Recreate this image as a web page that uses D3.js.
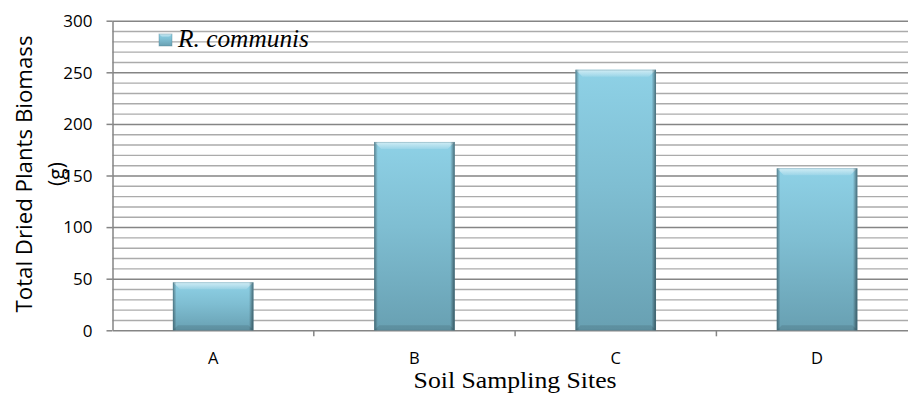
<!DOCTYPE html>
<html>
<head>
<meta charset="utf-8">
<script src="https://cdn.jsdelivr.net/npm/d3@7"></script>
<style>
  html, body { margin: 0; padding: 0; background: #fff; }
  svg { display: block; }
</style>
</head>
<body>
<svg id="chart" width="908" height="394"></svg>
<script>
// ---- data ----
const categories = ["A", "B", "C", "D"];
const seriesName = "R. communis";
const biomass = [46.5, 182.5, 252.5, 157];
const yTicks = [0, 50, 100, 150, 200, 250, 300];
const yMinorTicks = d3.range(10, 301, 10);
const xTitle = "Soil Sampling Sites";
const yTitleLines = ["Total Dried Plants Biomass", "(g)"];

(function () {
// ---- layout ----
const svg = d3.select("#chart");
const plotLeft = 112.5, plotRight = 917.7, plotTop = 20.7, plotBottom = 330.3;

const x = d3.scaleBand().domain(categories).range([plotLeft, plotRight]).padding(0);
const y = d3.scaleLinear().domain([0, 300]).range([plotBottom, plotTop]);

const defs = svg.append("defs");
const barGrad = defs.append("linearGradient").attr("id", "barGrad")
  .attr("x1", 0).attr("y1", 0).attr("x2", 0).attr("y2", 1);
barGrad.append("stop").attr("offset", 0).attr("stop-color", "#8ed1e6");
barGrad.append("stop").attr("offset", 0.45).attr("stop-color", "#7fbed2");
barGrad.append("stop").attr("offset", 1).attr("stop-color", "#68a0b2");

const sideGrad = defs.append("linearGradient").attr("id", "sideGrad")
  .attr("x1", 0).attr("y1", 0).attr("x2", 1).attr("y2", 0);
sideGrad.append("stop").attr("offset", 0).attr("stop-color", "#000").attr("stop-opacity", 0.38);
sideGrad.append("stop").attr("offset", 0.045).attr("stop-color", "#000").attr("stop-opacity", 0.0);
sideGrad.append("stop").attr("offset", 0.945).attr("stop-color", "#000").attr("stop-opacity", 0.0);
sideGrad.append("stop").attr("offset", 1).attr("stop-color", "#000").attr("stop-opacity", 0.48);

const topGrad = defs.append("linearGradient").attr("id", "topGrad")
  .attr("x1", 0).attr("y1", 0).attr("x2", 0).attr("y2", 1);
topGrad.append("stop").attr("offset", 0).attr("stop-color", "#ffffff").attr("stop-opacity", 0.6);
topGrad.append("stop").attr("offset", 1).attr("stop-color", "#ffffff").attr("stop-opacity", 0.12);

// ---- gridlines ----
const minorGrid = svg.append("g").attr("transform", `translate(${plotLeft},0)`)
  .call(d3.axisLeft(y).tickValues(yMinorTicks.filter(v => v % 50 !== 0)).tickSize(-(908 - plotLeft)).tickFormat(""));
minorGrid.select(".domain").remove();
minorGrid.selectAll("line").attr("stroke", "#ababab").attr("stroke-width", 1.4);

const majorGrid = svg.append("g").attr("transform", `translate(${plotLeft},0)`)
  .call(d3.axisLeft(y).tickValues(yTicks.filter(v => v > 0)).tickSize(-(908 - plotLeft)).tickFormat(""));
majorGrid.select(".domain").remove();
majorGrid.selectAll("line").attr("stroke", "#858585").attr("stroke-width", 1.5);

// ---- y axis ----
const yAxis = svg.append("g").attr("transform", `translate(${plotLeft},0)`)
  .call(d3.axisLeft(y).tickValues(yTicks).tickSize(6).tickSizeOuter(0).tickPadding(14));
yAxis.select(".domain").attr("stroke", "#858585").attr("stroke-width", 1.5);
yAxis.selectAll(".tick line").attr("stroke", "#858585").attr("stroke-width", 1.5);
yAxis.selectAll(".tick text")
  .attr("font-family", "'Open Sans', sans-serif").attr("font-size", 17).attr("fill", "#000")
  .attr("dy", "0.34em");

// ---- x axis ----
const xAxis = svg.append("g").attr("transform", `translate(0,${plotBottom})`)
  .call(d3.axisBottom(x).tickSize(0).tickPadding(22).tickSizeOuter(0));
xAxis.select(".domain").attr("stroke", "#858585").attr("stroke-width", 1.5);
xAxis.selectAll(".tick text")
  .attr("font-family", "'Open Sans', sans-serif").attr("font-size", 16.5).attr("fill", "#000");
const boundaryTicks = categories.slice(1).map(c => x(c));
xAxis.selectAll(".btick").data(boundaryTicks).join("line").attr("class", "btick")
  .attr("x1", d => d).attr("x2", d => d).attr("y1", 0).attr("y2", 6)
  .attr("stroke", "#858585").attr("stroke-width", 1.5);

// ---- bars ----
const barW = x.bandwidth() * 0.4;
const bars = svg.append("g").selectAll("g.bar").data(categories.map((c, i) => ({ c, v: biomass[i] })))
  .join("g").attr("class", "bar")
  .attr("transform", d => `translate(${x(d.c) + (x.bandwidth() - barW) / 2},${y(d.v)})`);

bars.each(function (d) {
  const g = d3.select(this);
  const w = barW, h = y(0) - y(d.v);
  const bt = 7, bb = 5;
  g.append("rect").attr("width", w).attr("height", h).attr("fill", "url(#barGrad)");
  g.append("polygon")
    .attr("points", [[0, 0], [w, 0], [w - bt, bt], [bt, bt]].map(p => p.join(",")).join(" "))
    .attr("fill", "url(#topGrad)");
  g.append("polygon")
    .attr("points", [[0, h], [bb, h - bb], [w - bb, h - bb], [w, h]].map(p => p.join(",")).join(" "))
    .attr("fill", "#000").attr("fill-opacity", 0.1);
  g.append("rect").attr("width", w).attr("height", h).attr("fill", "url(#sideGrad)");
  g.append("rect").attr("x", 0.4).attr("y", 0.4).attr("width", w - 0.8).attr("height", h - 0.8)
    .attr("fill", "none").attr("stroke", "#4f8293").attr("stroke-opacity", 0.4).attr("stroke-width", 0.8);
});

// ---- legend ----
const legend = svg.append("g");
const sw = legend.append("g").attr("transform", "translate(159,34)");
sw.append("rect").attr("width", 13).attr("height", 12).attr("fill", "url(#barGrad)");
sw.append("polygon").attr("points", "0,0 13,0 10,3 3,3").attr("fill", "url(#topGrad)");
sw.append("rect").attr("width", 13).attr("height", 12).attr("fill", "none")
  .attr("stroke", "#4f8293").attr("stroke-opacity", 0.5).attr("stroke-width", 0.8);
legend.append("text").attr("x", 178).attr("y", 47)
  .attr("font-family", "'Liberation Serif', 'Times New Roman', serif").attr("font-style", "italic")
  .attr("font-size", 24.5).attr("fill", "#000")
  .attr("textLength", 131).attr("lengthAdjust", "spacingAndGlyphs")
  .text(seriesName);

// ---- titles ----
svg.append("text").attr("x", (plotLeft + plotRight) / 2).attr("y", 388).attr("text-anchor", "middle")
  .attr("font-family", "'Liberation Serif', 'Times New Roman', serif").attr("font-size", 23.5)
  .attr("fill", "#000").attr("textLength", 203).attr("lengthAdjust", "spacingAndGlyphs")
  .text(xTitle);

const yt = svg.append("g").attr("transform", "translate(0,174) rotate(-90)");
yt.append("text").attr("x", 0).attr("y", 32).attr("text-anchor", "middle")
  .attr("font-family", "'Open Sans', sans-serif").attr("font-size", 21).attr("fill", "#000")
  .attr("textLength", 277).attr("lengthAdjust", "spacingAndGlyphs")
  .text(yTitleLines[0]);
yt.append("text").attr("x", 0).attr("y", 64).attr("text-anchor", "middle")
  .attr("font-family", "'Open Sans', sans-serif").attr("font-size", 21).attr("fill", "#000")
  .text(yTitleLines[1]);
})();
</script>
</body>
</html>
